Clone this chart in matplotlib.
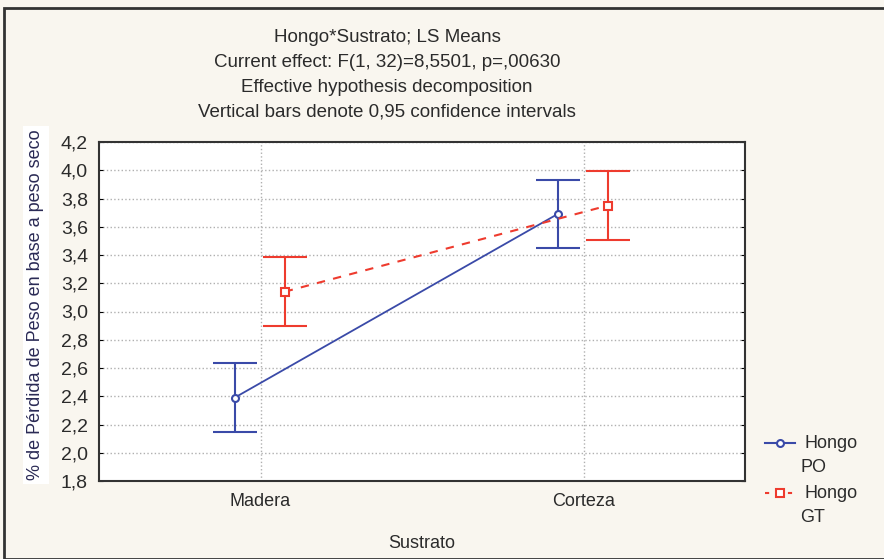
import numpy as np
import matplotlib.pyplot as plt
from matplotlib.lines import Line2D

plt.rcParams['font.family'] = ['Liberation Sans', 'DejaVu Sans']

sustrato = ['Madera', 'Corteza']
po_mean = [2.39, 3.69]
po_ci = [0.245, 0.24]
gt_mean = [3.14, 3.75]
gt_ci = [0.245, 0.245]
yticks = [1.8, 2.0, 2.2, 2.4, 2.6, 2.8, 3.0, 3.2, 3.4, 3.6, 3.8, 4.0, 4.2]

titles = ['Hongo*Sustrato; LS Means',
          'Current effect: F(1, 32)=8,5501, p=,00630',
          'Effective hypothesis decomposition',
          'Vertical bars denote 0,95 confidence intervals']
series = [('Hongo', 'PO'), ('Hongo', 'GT')]

blue = '#3a4aa8'
red = '#ee3b2e'
txt = '#2b2b2b'

fig = plt.figure(figsize=(8.84, 5.59), dpi=100)
fig.patch.set_facecolor('#f9f6ef')
ax = fig.add_axes([99 / 884, 1 - 481 / 559, (745 - 99) / 884, (481 - 142) / 559])
ax.set_facecolor('white')

x = np.arange(len(sustrato))
ax.errorbar(x - 0.08, po_mean, yerr=po_ci, color=blue, lw=1.3, marker='o',
            ms=5, mfc='white', mec=blue, mew=1.5, capsize=16, capthick=1.5,
            elinewidth=1.5)
ax.errorbar(x + 0.075, gt_mean, yerr=gt_ci, color=red, lw=1.5, ls=(0, (4, 4)),
            marker='s', ms=6, mfc='white', mec=red, mew=1.5, capsize=16,
            capthick=1.5, elinewidth=1.5)

ax.set_xlim(-0.5, 1.5)
ax.set_ylim(1.8, 4.2)
ax.set_xticks(x)
ax.set_xticklabels(sustrato, fontsize=13, color=txt)
ax.set_yticks(yticks)
ax.set_yticklabels([f'{v:.1f}'.replace('.', ',') for v in yticks], fontsize=14,
                   color=txt)
ax.tick_params(axis='y', direction='in', length=3, right=True, pad=8)
ax.tick_params(axis='x', length=0, pad=9)
ax.grid(True, ls=':', color='#b0b0b0', lw=1)
for s in ax.spines.values():
    s.set_linewidth(1.5)
    s.set_color('#333333')

ax.set_xlabel('Sustrato', fontsize=13, labelpad=18, color=txt)
fig.text(36 / 884, 1 - 305 / 559, '% de Pérdida de Peso en base a peso seco',
         rotation=90, ha='center', va='center', fontsize=13, color='#2a2a55',
         bbox=dict(facecolor='white', edgecolor='none', pad=3))

for i, t in enumerate(titles):
    fig.text(387 / 884, 1 - (37 + i * 25) / 559, t, ha='center', va='center',
             fontsize=13.5, color=txt)

# legend drawn by hand: handle next to first line, second line indented below
styles = [dict(color=blue, ls='-', marker='o', ms=5),
          dict(color=red, ls=(0, (2, 3.5)), marker='s', ms=6)]
for i, ((l1, l2), st) in enumerate(zip(series, styles)):
    yy = 1 - (443 + i * 50) / 559
    fig.add_artist(Line2D([765 / 884, 795 / 884], [yy, yy], transform=fig.transFigure,
                          color=st['color'], ls=st['ls'], lw=1.5))
    fig.add_artist(Line2D([780 / 884], [yy], transform=fig.transFigure,
                          color=st['color'], marker=st['marker'], ms=st['ms'],
                          mfc='white', mec=st['color'], mew=1.5, ls='none'))
    fig.text(804 / 884, yy, l1, ha='left', va='center', fontsize=13, color=txt)
    fig.text(800 / 884, yy - 24 / 559, l2, ha='left', va='center', fontsize=13,
             color=txt)

fig.add_artist(plt.Rectangle((4 / 884, 0), 1, 1 - 8 / 559, transform=fig.transFigure,
                             fill=False, edgecolor='#333333', lw=2))

fig.savefig('out.png', dpi=100, facecolor=fig.get_facecolor())
